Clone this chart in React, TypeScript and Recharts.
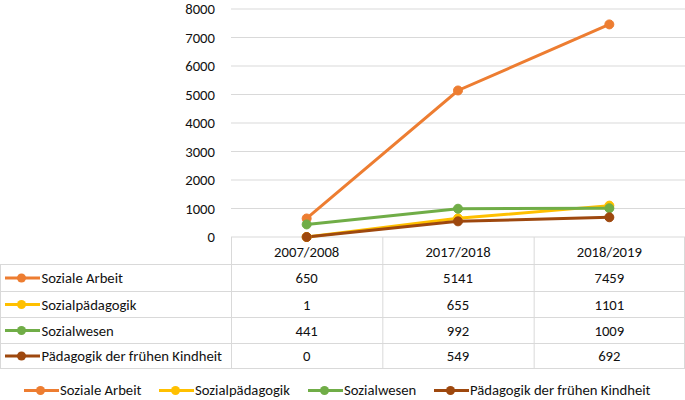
import React from "react";
import { LineChart, Line, XAxis, YAxis, CartesianGrid } from "recharts";

document.body.style.margin = "0";

const categories = ["2007/2008", "2017/2018", "2018/2019"];
const sozialeArbeit = [650, 5141, 7459];
const sozialpaedagogik = [1, 655, 1101];
const sozialwesen = [441, 992, 1009];
const fruehKindheit = [0, 549, 692];
const seriesNames = ["Soziale Arbeit", "Sozialpädagogik", "Sozialwesen", "Pädagogik der frühen Kindheit"];
const seriesValues = [sozialeArbeit, sozialpaedagogik, sozialwesen, fruehKindheit];
const seriesColors = ["#ED7D31", "#FFC000", "#70AD47", "#9E480E"];
const yTicks = [0, 1000, 2000, 3000, 4000, 5000, 6000, 7000, 8000];

const keys = ["s0", "s1", "s2", "s3"];
const data = categories.map((c, i) => {
  const row: any = { cat: c };
  seriesValues.forEach((vals, s) => (row[keys[s]] = vals[i]));
  return row;
});

const W = 685;
const H = 400;
const PLOT_LEFT = 231;
const PLOT_TOP = 9;
const PLOT_BOTTOM = 237;
const FONT = "Carlito, Calibri, Lato, sans-serif";
const FS = 14.7;
const TEXT = "#111111";
const GRID = "#D9D9D9";
const bandW = (W - PLOT_LEFT) / categories.length;
const rowEdges = [237, 264, 291, 317, 343, 368];
const legendStarts = [24, 159, 308, 434];

function Marker({ x, y, color }: { x: number; y: number; color: string }) {
  return (
    <g>
      <line x1={x} x2={x + 35} y1={y} y2={y} stroke={color} strokeWidth={3} />
      <circle cx={x + 16.5} cy={y} r={4.5} fill={color} />
    </g>
  );
}

function Table() {
  const colX = categories.map((_, i) => PLOT_LEFT + bandW * i);
  return (
    <svg width={W} height={H} style={{ position: "absolute", left: 0, top: 0, pointerEvents: "none" }}>
      {rowEdges.slice(1).map((y, i) => (
        <line key={"h" + i} x1={0} x2={W} y1={y + 0.5} y2={y + 0.5} stroke={GRID} strokeWidth={1} />
      ))}
      {[...colX, W - 1].map((x, i) => (
        <line key={"v" + i} x1={x + 0.5} x2={x + 0.5} y1={rowEdges[0]} y2={rowEdges[5] + 0.5} stroke={GRID} strokeWidth={1} />
      ))}
      <line x1={0.5} x2={0.5} y1={rowEdges[1]} y2={rowEdges[5] + 0.5} stroke={GRID} strokeWidth={1} />
      {categories.map((c, i) => (
        <text key={"c" + i} x={colX[i] + bandW / 2} y={(rowEdges[0] + rowEdges[1]) / 2 + 1} textAnchor="middle" dominantBaseline="central" fontFamily={FONT} fontSize={FS} fill={TEXT}>
          {c}
        </text>
      ))}
      {seriesNames.map((name, s) => {
        const yc = (rowEdges[s + 1] + rowEdges[s + 2]) / 2 + 0.5;
        return (
          <g key={"r" + s}>
            <Marker x={5} y={yc} color={seriesColors[s]} />
            <text x={41.5} y={yc} dominantBaseline="central" fontFamily={FONT} fontSize={FS} fill={TEXT}>
              {name}
            </text>
            {seriesValues[s].map((v, i) => (
              <text key={i} x={colX[i] + bandW / 2} y={yc} textAnchor="middle" dominantBaseline="central" fontFamily={FONT} fontSize={FS} fill={TEXT}>
                {v}
              </text>
            ))}
          </g>
        );
      })}
      {seriesNames.map((name, s) => (
        <g key={"l" + s}>
          <Marker x={legendStarts[s]} y={390.5} color={seriesColors[s]} />
          <text x={legendStarts[s] + 36} y={390} dominantBaseline="central" fontFamily={FONT} fontSize={FS} fill={TEXT}>
            {name}
          </text>
        </g>
      ))}
    </svg>
  );
}

export default function App() {
  return (
    <div style={{ position: "relative", width: W, height: H, background: "#fff" }}>
      <LineChart width={W} height={H} data={data} margin={{ top: PLOT_TOP, right: 0, bottom: H - PLOT_BOTTOM, left: 0 }}>
        <CartesianGrid vertical={false} stroke={GRID} strokeWidth={1} />
        <XAxis dataKey="cat" hide padding={{ left: bandW / 2, right: bandW / 2 }} />
        <YAxis
          width={PLOT_LEFT}
          domain={[0, 8000]}
          ticks={yTicks}
          interval={0}
          axisLine={false}
          tickLine={false}
          tickMargin={10}
          tick={{ fontFamily: FONT, fontSize: FS, fill: TEXT }}
        />
        {keys.map((k, s) => (
          <Line
            key={k}
            dataKey={k}
            type="linear"
            stroke={seriesColors[s]}
            strokeWidth={3}
            dot={{ r: 4.5, fill: seriesColors[s], stroke: seriesColors[s], strokeWidth: 1 }}
            isAnimationActive={false}
          />
        ))}
      </LineChart>
      <Table />
    </div>
  );
}
